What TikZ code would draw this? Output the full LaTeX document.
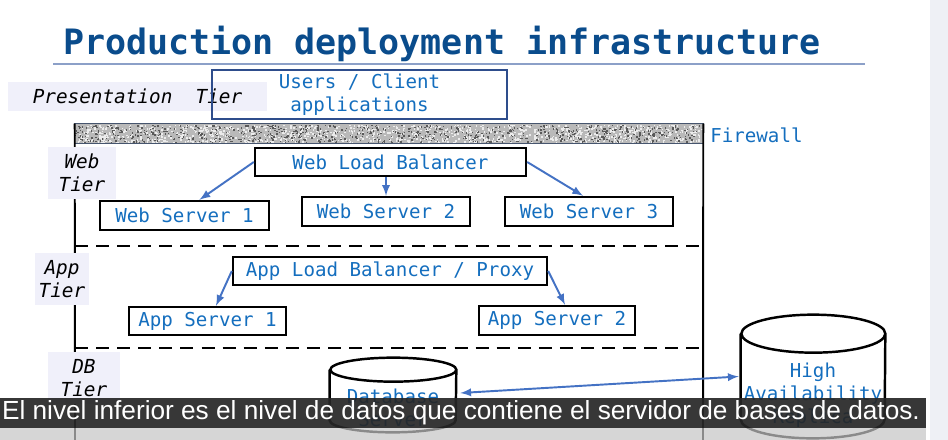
\documentclass[tikz,border=0pt]{standalone}
\usepackage{fontspec}
\setmonofont{DejaVu Sans Mono}[ItalicFont={DejaVu Sans Mono Oblique},BoldFont={DejaVu Sans Mono Bold}]
\newfontfamily\capfont{Liberation Sans}
\definecolor{titleblue}{RGB}{10,76,140}
\definecolor{txtblue}{RGB}{20,110,190}
\definecolor{userblue}{RGB}{46,77,140}
\definecolor{arrowblue}{RGB}{68,114,196}
\definecolor{tierbg}{RGB}{240,240,250}
\definecolor{rulecol}{RGB}{140,160,200}
\definecolor{fwborder}{RGB}{70,85,110}
\definecolor{sidegray}{RGB}{238,240,245}
\tikzset{
  box/.style={draw=black, line width=1.4pt, text=txtblue, inner sep=0pt,
    font=\ttfamily\fontsize{10.9}{13.1}\selectfont},
  tierlabel/.style={fill=tierbg, inner sep=0pt, align=center,
    font=\ttfamily\itshape\fontsize{11}{13.1}\selectfont},
  bluetext/.style={text=txtblue, inner sep=0pt, align=center,
    font=\ttfamily\fontsize{10.9}{13.1}\selectfont},
  arr/.style={->,>=latex, draw=arrowblue, line width=1.1pt},
  frame/.style={draw=black, line width=1.1pt},
  sep/.style={draw=black, line width=1.1pt, dash pattern=on 7.4pt off 4.6pt},
  cyl/.style={draw=black, line width=1.4pt, fill=white}
}
\begin{document}
\begin{tikzpicture}[x=0.02cm,y=0.02cm]
	\useasboundingbox (0,0) rectangle (948,-440);
	\clip (0,0) rectangle (948,-440);
	\fill[white] (0,0) rectangle (948,-440);
	\fill[sidegray] (930,0) rectangle (948,-440);
	% title
	\node[anchor=base, text=titleblue, inner sep=0pt, font=\ttfamily\bfseries\fontsize{19.9}{24}\selectfont] (ttl) at (442,-54) {Production deployment infrastructure};
	\draw[rulecol, line width=0.7pt] (53,-64) -- (865,-64);
	% presentation tier
	\node[tierlabel, minimum width=5.18cm, minimum height=0.58cm] (pres) at (137.5,-96.5) {Presentation\ \ Tier};
	\node[box, draw=userblue, line width=1.2pt, minimum width=5.9cm, minimum height=0.98cm, align=center] (users) at (359.5,-94.5) {Users / Client\\applications};
	% firewall
	\node[minimum width=12.56cm, minimum height=0.38cm, inner sep=0pt, fill=gray!55] (fw) at (389,-133.5) {};
	\pgfmathsetseed{12}
	\foreach \i in {1,...,1100}{\fill[gray!15] ({75+626*rnd},{-124.5-17.5*rnd}) rectangle ++(1.6,-1.6);}
	\foreach \i in {1,...,800}{\fill[black!65] ({75+626*rnd},{-124.5-17.5*rnd}) rectangle ++(1.4,-1.4);}
	\draw[fwborder, line width=0.8pt] (fw.south west) rectangle (fw.north east);
	\node[bluetext, anchor=west] (fwlabel) at (710,-135) {Firewall};
	\coordinate (fl) at (75,-440);
	\coordinate (fr) at (703,-440);
	\draw[frame] (fw.north west) -- (fl);
	\draw[frame] (fw.north east) -- (fr);
	% web tier
	\node[tierlabel, minimum width=1.36cm, minimum height=1.04cm] (webtier) at (82,-173) {Web\\Tier};
	\node[box, minimum width=5.42cm, minimum height=0.56cm] (wlb) at (390.5,-162) {Web Load Balancer};
	\node[box, minimum width=3.38cm, minimum height=0.58cm] (ws1) at (184.5,-215.5) {Web Server 1};
	\node[box, minimum width=3.36cm, minimum height=0.58cm] (ws2) at (386,-211.5) {Web Server 2};
	\node[box, minimum width=3.36cm, minimum height=0.58cm] (ws3) at (589,-211.5) {Web Server 3};
	\draw[arr] (wlb.west) -- ([xshift=0.3cm]ws1.north);
	\draw[arr] (ws2.north |- wlb.south) -- (ws2.north);
	\draw[arr] (wlb.east) -- ([xshift=-0.12cm]ws3.north);
	\draw[sep] (75,-246) -- (703,-246);
	% app tier
	\node[tierlabel, minimum width=1.08cm, minimum height=1.04cm] (apptier) at (62,-279) {App\\Tier};
	\node[box, minimum width=6.28cm, minimum height=0.56cm] (alb) at (390,-271) {App Load Balancer / Proxy};
	\node[box, minimum width=3.14cm, minimum height=0.56cm] (as1) at (207.5,-321) {App Server 1};
	\node[box, minimum width=3.12cm, minimum height=0.58cm] (as2) at (557,-320.5) {App Server 2};
	\draw[arr] (alb.west) -- ([xshift=0.17cm]as1.north);
	\draw[arr] (alb.east) -- ([xshift=0.16cm]as2.north);
	\draw[sep] (75,-348) -- (703,-348);
	% db tier
	\node[tierlabel, minimum width=1.44cm, minimum height=1.04cm] (dbtier) at (84,-378) {DB\\Tier};
	\node[minimum width=2.52cm, minimum height=1.48cm, inner sep=0pt] (db) at (393,-395) {};
	\draw[cyl] ([yshift=-0.24cm]db.north west) -- ([yshift=0.24cm]db.south west) arc[start angle=180, end angle=360, x radius=63, y radius=12] -- ([yshift=-0.24cm]db.north east) arc[start angle=0, end angle=360, x radius=63, y radius=12];
	\node[bluetext] (dbtext) at (393,-408) {Database\\Server};
	\node[minimum width=2.88cm, minimum height=2.46cm, inner sep=0pt] (ha) at (813,-376.5) {};
	\draw[cyl] ([yshift=-0.38cm]ha.north west) -- ([yshift=0.38cm]ha.south west) arc[start angle=180, end angle=360, x radius=72, y radius=19] -- ([yshift=-0.38cm]ha.north east) arc[start angle=0, end angle=360, x radius=72, y radius=19];
	\node[bluetext] (hatext) at (813,-395) {High\\Availability\\Replica};
	\draw[arr, <->] ([xshift=0.08cm, yshift=0.04cm]db.east) -- ([xshift=-0.04cm]ha.west);
	% subtitle
	\fill[black!85, opacity=0.92] (0,-398) rectangle (926,-428);
	\fill[gray!45, opacity=0.7] (0,-428) rectangle (926,-440);
	\node[text=white, inner sep=0pt] (cap) at (461,-413) {\resizebox{18.36cm}{!}{\capfont El nivel inferior es el nivel de datos que contiene el servidor de bases de datos.}};
\end{tikzpicture}
\end{document}
